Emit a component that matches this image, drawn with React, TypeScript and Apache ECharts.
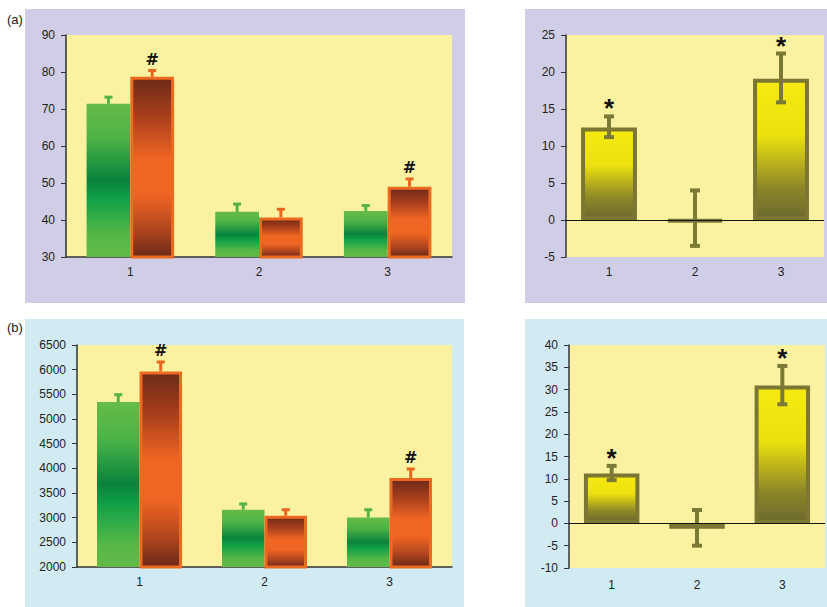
import React, { useEffect, useRef } from "react";
import * as echarts from "echarts";

const categories = ["1", "2", "3"];

// Panel (a), left: two groups
const aGreen = [71.4, 42.2, 42.4];
const aGreenHi = [73.2, 44.3, 43.9];
const aOrange = [78.7, 40.7, 49.0];
const aOrangeHi = [80.4, 42.9, 51.1];
const aMarks = ["#", "", "#"];
const aTicks = { min: 30, max: 90, interval: 10 };

// Panel (a), right: differences
const aDiff = [12.5, -0.2, 19.1];
const aDiffHi = [14.0, 4.0, 22.5];
const aDiffLo = [11.2, -3.5, 15.9];
const aDiffMarks = ["*", "", "*"];
const aDiffTicks = { min: -5, max: 25, interval: 5 };

// Panel (b), left
const bGreen = [5345, 3161, 3005];
const bGreenHi = [5493, 3277, 3161];
const bOrange = [5965, 3040, 3804];
const bOrangeHi = [6156, 3161, 3987];
const bMarks = ["#", "", "#"];
const bTicks = { min: 2000, max: 6500, interval: 500 };

// Panel (b), right
const bDiff = [11.2, -1.2, 30.9];
const bDiffHi = [12.9, 3.0, 35.3];
const bDiffLo = [9.7, -5.0, 26.7];
const bDiffMarks = ["*", "", "*"];
const bDiffTicks = { min: -10, max: 40, interval: 5 };

const FONT = "Liberation Sans";
const GAP = 0.32;

const grad = (stops: [number, string][]) =>
  new echarts.graphic.LinearGradient(0, 0, 0, 1, stops.map(([offset, color]) => ({ offset, color })));

const greenGrad = () =>
  grad([
    [0, "#66bb46"],
    [0.22, "#4db347"],
    [0.5, "#08833c"],
    [0.62, "#10a046"],
    [0.85, "#54b747"],
    [1, "#63ba46"],
  ]);
const orangeGrad = () =>
  grad([
    [0, "#6e2a18"],
    [0.2, "#a53d1c"],
    [0.45, "#f06522"],
    [0.65, "#f06522"],
    [0.85, "#b0451e"],
    [1, "#6a2818"],
  ]);
const yellowGrad = () =>
  grad([
    [0, "#f6ea10"],
    [0.4, "#ece10e"],
    [0.78, "#8c8628"],
    [1, "#6d6a2c"],
  ]);

function errRenderer(
  offsetFrac: number,
  color: string,
  lw: number,
  capHalf: number,
  bothCaps: boolean,
  marks: string[],
  markFamily: string,
  markSize: number,
  markDy: number
) {
  return (params: any, api: any) => {
    const i = api.value(0);
    const lo = api.value(1);
    const hi = api.value(2);
    const ph = api.coord([i, hi]);
    const pl = api.coord([i, lo]);
    const band = api.size([1, 0])[0];
    const cx = ph[0] + offsetFrac * band;
    const children: any[] = [
      { type: "line", shape: { x1: cx, y1: pl[1], x2: cx, y2: ph[1] }, style: { stroke: color, lineWidth: lw } },
      { type: "line", shape: { x1: cx - capHalf, y1: ph[1], x2: cx + capHalf, y2: ph[1] }, style: { stroke: color, lineWidth: lw } },
    ];
    if (bothCaps) {
      children.push({
        type: "line",
        shape: { x1: cx - capHalf, y1: pl[1], x2: cx + capHalf, y2: pl[1] },
        style: { stroke: color, lineWidth: lw },
      });
    }
    const m = marks[params.dataIndex];
    if (m) {
      children.push({
        type: "text",
        x: cx,
        y: ph[1] + markDy,
        style: {
          text: m,
          fontFamily: markFamily,
          fontSize: markSize,
          fontWeight: "bold",
          fill: "#111",
          align: "center",
          verticalAlign: "middle",
        },
      });
    }
    return { type: "group", children };
  };
}

const errData = (lo: number[], hi: number[]) => lo.map((v, i) => [i, v, hi[i]]);

export default function App() {
  const ref = useRef<HTMLDivElement>(null);
  useEffect(() => {
    if (!ref.current) return;
    const chart = echarts.init(ref.current, undefined, { renderer: "svg" });

    const grids = [
      { left: 66, top: 35, width: 386, height: 222 },
      { left: 566, top: 35, width: 258, height: 222 },
      { left: 77, top: 345, width: 375, height: 222 },
      { left: 569, top: 345, width: 256, height: 223 },
    ].map((g) => ({ ...g, show: true, backgroundColor: "#faf2a0", borderWidth: 0 }));

    const isLeft = [true, false, true, false];
    const xMargins = [9, 9, 9, 11];
    const xAxis = grids.map((_, i) => ({
      type: "category",
      gridIndex: i,
      data: categories,
      axisTick: { show: false },
      axisLine: isLeft[i]
        ? { show: true, onZero: false, lineStyle: { color: "#333", width: 1.5 } }
        : { show: false, onZero: false },
      axisLabel: { color: "#222", fontSize: 12, fontFamily: FONT, margin: xMargins[i] },
    }));

    const ticks = [aTicks, aDiffTicks, bTicks, bDiffTicks];
    const yAxis = ticks.map((t, i) => ({
      type: "value",
      gridIndex: i,
      min: t.min,
      max: t.max,
      interval: t.interval,
      splitLine: { show: false },
      axisLine: { show: true, lineStyle: { color: "#333", width: 1.5 } },
      axisTick: { show: true, length: 5, lineStyle: { color: "#333" } },
      axisLabel: {
        color: "#222",
        fontSize: 12,
        fontFamily: FONT,
        margin: 11,
        formatter: (v: number) => String(v),
      },
    }));

    const off = (1 - GAP) / 4;

    const groupSeries = (idx: number, green: number[], greenHi: number[], orange: number[], orangeHi: number[], marks: string[]) => [
      {
        type: "bar",
        xAxisIndex: idx,
        yAxisIndex: idx,
        data: green,
        barGap: "0%",
        barCategoryGap: `${GAP * 100}%`,
        itemStyle: { color: greenGrad() },
        z: 2,
      },
      {
        type: "bar",
        xAxisIndex: idx,
        yAxisIndex: idx,
        data: orange,
        barGap: "0%",
        barCategoryGap: `${GAP * 100}%`,
        itemStyle: { color: orangeGrad(), borderColor: "#ec6a1f", borderWidth: 3 },
        z: 3,
      },
      {
        type: "custom",
        xAxisIndex: idx,
        yAxisIndex: idx,
        data: errData(green, greenHi),
        encode: { x: 0, y: [1, 2] },
        renderItem: errRenderer(-off, "#55b346", 3, 4, false, ["", "", ""], "DejaVu Sans", 16, -11),
        z: 4,
      },
      {
        type: "custom",
        xAxisIndex: idx,
        yAxisIndex: idx,
        data: errData(orange, orangeHi),
        encode: { x: 0, y: [1, 2] },
        renderItem: errRenderer(off, "#e8651f", 3, 4, false, marks, "DejaVu Sans", 16, -11),
        z: 4,
      },
    ];

    const diffSeries = (idx: number, diff: number[], hi: number[], lo: number[], marks: string[]) => [
      {
        type: "bar",
        xAxisIndex: idx,
        yAxisIndex: idx,
        data: diff,
        barCategoryGap: "35%",
        itemStyle: { color: yellowGrad(), borderColor: "#7b7733", borderWidth: 4 },
        z: 2,
        markLine: {
          silent: true,
          symbol: "none",
          label: { show: false },
          lineStyle: { color: "#111", width: 1, type: "solid" },
          data: [{ yAxis: 0 }],
        },
      },
      {
        type: "custom",
        xAxisIndex: idx,
        yAxisIndex: idx,
        data: errData(lo, hi),
        encode: { x: 0, y: [1, 2] },
        renderItem: errRenderer(0, "#7b7a35", 4, 5, true, marks, FONT, 26, -8),
        z: 4,
      },
    ];

    const panel = (x: number, y: number, w: number, h: number, fill: string) => ({
      type: "rect",
      z: -100,
      shape: { x, y, width: w, height: h },
      style: { fill },
    });

    chart.setOption({
      animation: false,
      backgroundColor: "#ffffff",
      graphic: {
        elements: [
          panel(25, 9, 440, 294, "#cfcee6"),
          panel(525, 9, 302, 294, "#cfcee6"),
          panel(25, 319, 439, 288, "#d2ebf2"),
          panel(525, 319, 302, 288, "#d2ebf2"),
          {
            type: "text",
            x: 7,
            y: 19,
            style: { text: "(a)", fontFamily: FONT, fontSize: 13, fill: "#222", verticalAlign: "middle" },
          },
          {
            type: "text",
            x: 7,
            y: 327,
            style: { text: "(b)", fontFamily: FONT, fontSize: 13, fill: "#222", verticalAlign: "middle" },
          },
        ],
      },
      grid: grids,
      xAxis,
      yAxis,
      series: [
        ...groupSeries(0, aGreen, aGreenHi, aOrange, aOrangeHi, aMarks),
        ...diffSeries(1, aDiff, aDiffHi, aDiffLo, aDiffMarks),
        ...groupSeries(2, bGreen, bGreenHi, bOrange, bOrangeHi, bMarks),
        ...diffSeries(3, bDiff, bDiffHi, bDiffLo, bDiffMarks),
      ],
    });
    return () => chart.dispose();
  }, []);
  return <div ref={ref} style={{ position: "absolute", left: 0, top: 0, width: 827, height: 607 }} />;
}
